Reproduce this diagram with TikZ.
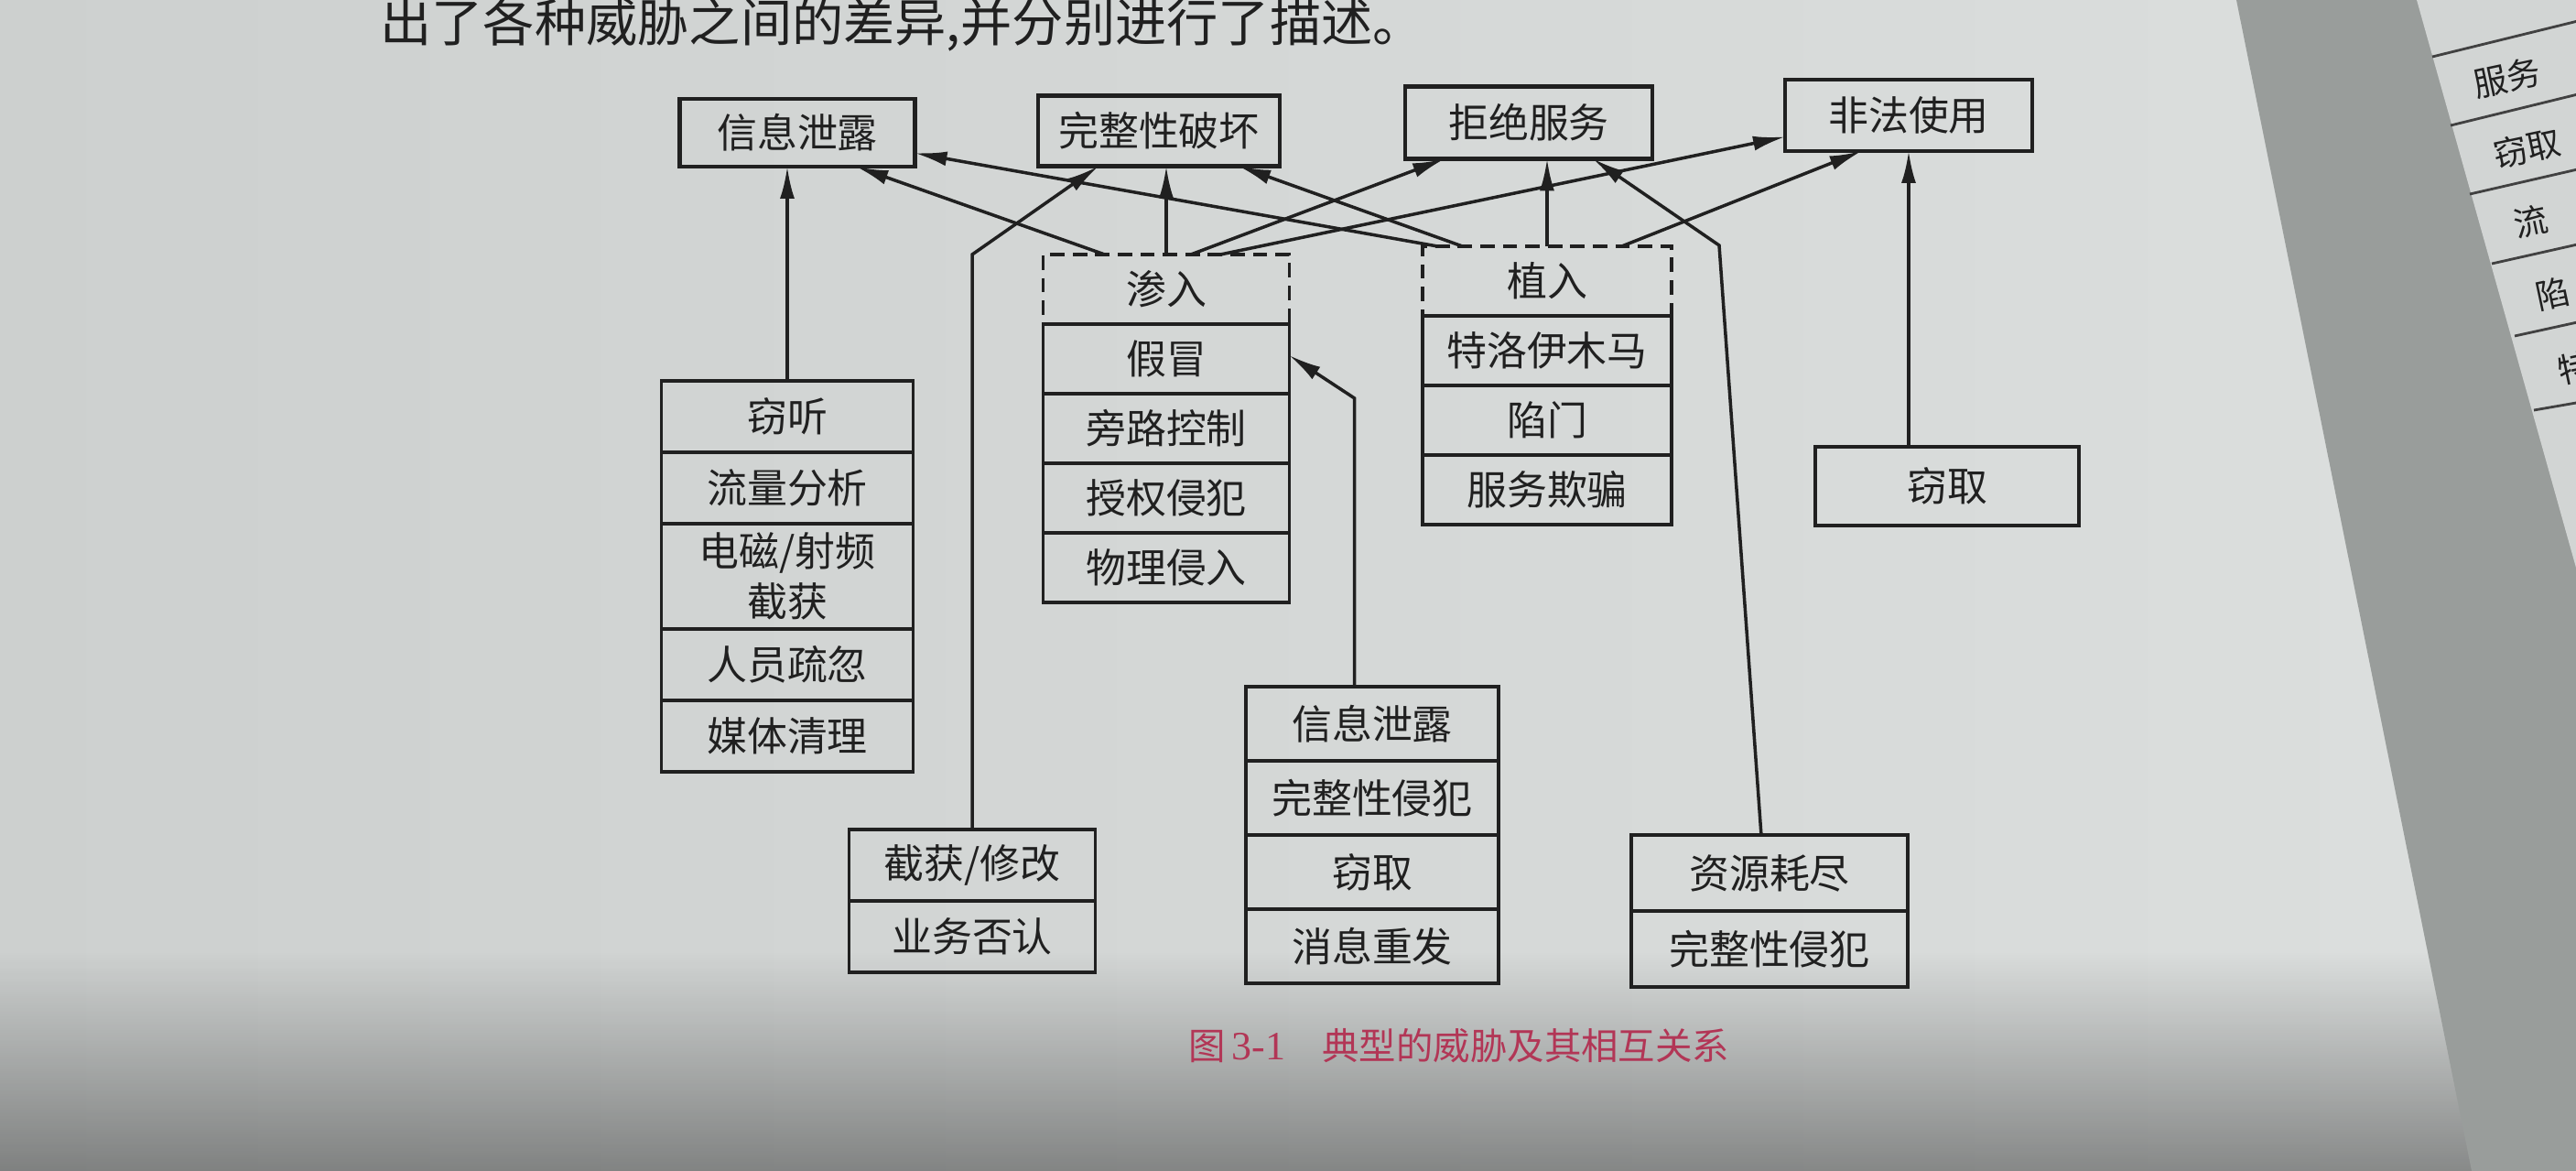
\documentclass[tikz,border=0pt]{standalone}
\usepackage{fontspec}
\setmainfont{Noto Sans CJK SC}
\newfontfamily\latinserif{Liberation Serif}
\usepackage{xcolor}
\usepackage{tikz}
\usetikzlibrary{arrows.meta,positioning,calc,fadings}
\definecolor{papel}{HTML}{DCDFDE}
\definecolor{papelosc}{HTML}{CDD0CF}
\definecolor{sombra}{HTML}{999D9B}
\definecolor{tinta}{HTML}{202020}
\definecolor{rubrica}{HTML}{B23656}
\tikzfading[name=fadebajo, top color=transparent!100, bottom color=transparent!0]
\tikzset{
    caja/.style={
        rectangle,
        draw=tinta,
        text=tinta,
        line width=1.1pt,
        inner sep=0pt,
        outer sep=0pt,
        align=center,
        minimum height=0.78cm,
        font=\fontsize{12.5}{15.5}\selectfont
    },
    amenaza/.style={caja, line width=1.3pt},
    fila/.style={caja},
    difusa/.style={caja, dash pattern=on 4.5pt off 2.5pt},
    flecha/.style={-{Latex[length=3.5mm, width=1.6mm]}, line width=1.0pt, draw=tinta},
    renglon/.style={line width=0.8pt, draw=tinta!85},
    ajena/.style={rotate=12, anchor=west, text=tinta, font=\fontsize{10.5}{12}\selectfont, inner sep=0pt},
    leyenda/.style={anchor=west, text=rubrica, font=\fontsize{11.5}{14}\selectfont}
}

\begin{document}
\begin{tikzpicture}
        \useasboundingbox (0,0) rectangle (28.14,-12.79);
        \clip (0,0) rectangle (28.14,-12.79);
        % fondo de la foto
        \shade[left color=papelosc, right color=papel] (0,0) rectangle (28.14,-12.79);
        \fill[black, opacity=0.38, path fading=fadebajo] (0,-10.4) rectangle (28.14,-12.79);
        \fill[sombra] (24.43,0) -- (28.14,0) -- (28.14,-12.79) -- (27.0,-12.79) -- cycle;
        \fill[papel!85!sombra] (26.40,0) -- (28.14,0) -- (28.14,-6.2) -- cycle;

        \node[anchor=west, text=tinta, font=\fontsize{16}{18}\selectfont] (encabezado) at (4.03,-0.27) {出了各种威胁之间的差异,并分别进行了描述。};

        % amenazas principales
        \node[amenaza, minimum width=2.57cm, minimum height=0.74cm] (xinxi) at (8.71,-1.45) {信息泄露};
        \node[amenaza, minimum width=2.64cm, minimum height=0.77cm] (wanzheng) at (12.66,-1.43) {完整性破坏};
        \node[amenaza, minimum width=2.70cm, minimum height=0.79cm] (jujue) at (16.70,-1.34) {拒绝服务};
        \node[amenaza, minimum width=2.70cm, minimum height=0.78cm] (feifa) at (20.85,-1.26) {非法使用};

        % grupos
        \node[fila, minimum width=2.75cm] (qieting) at (8.60,-4.55) {窃听};
        \node[fila, below=0pt of qieting, minimum width=2.75cm] (liuliang) {流量分析};
        \node[fila, below=0pt of liuliang, minimum width=2.75cm, minimum height=1.15cm] (dianci) {电磁/射频\\截获};
        \node[fila, below=0pt of dianci, minimum width=2.75cm] (renyuan) {人员疏忽};
        \node[fila, below=0pt of renyuan, minimum width=2.75cm] (meiti) {媒体清理};

        \node[difusa, minimum width=2.69cm, minimum height=0.76cm] (shenru) at (12.74,-3.16) {渗入};
        \node[fila, below=0pt of shenru, minimum width=2.69cm, minimum height=0.76cm] (maojia) {假冒};
        \node[fila, below=0pt of maojia, minimum width=2.69cm, minimum height=0.76cm] (panglu) {旁路控制};
        \node[fila, below=0pt of panglu, minimum width=2.69cm, minimum height=0.76cm] (shouquan) {授权侵犯};
        \node[fila, below=0pt of shouquan, minimum width=2.69cm, minimum height=0.76cm] (wuli) {物理侵入};

        \node[difusa, minimum width=2.72cm, minimum height=0.76cm] (zhiru) at (16.90,-3.07) {植入};
        \node[fila, below=0pt of zhiru, minimum width=2.72cm, minimum height=0.76cm] (tewo) {特洛伊木马};
        \node[fila, below=0pt of tewo, minimum width=2.72cm, minimum height=0.76cm] (xianmen) {陷门};
        \node[fila, below=0pt of xianmen, minimum width=2.72cm, minimum height=0.76cm] (qipian) {服务欺骗};

        \node[fila, minimum width=2.88cm, minimum height=0.86cm] (qiequ) at (21.27,-5.31) {窃取};

        \node[fila, minimum width=2.69cm] (jiehuo) at (10.62,-9.45) {截获/修改};
        \node[fila, below=0pt of jiehuo, minimum width=2.69cm] (fouren) {业务否认};

        \node[fila, minimum width=2.76cm, minimum height=0.81cm] (xielu) at (14.99,-7.905) {信息泄露};
        \node[fila, below=0pt of xielu, minimum width=2.76cm, minimum height=0.81cm] (qinfan) {完整性侵犯};
        \node[fila, below=0pt of qinfan, minimum width=2.76cm, minimum height=0.81cm] (qiequdos) {窃取};
        \node[fila, below=0pt of qiequdos, minimum width=2.76cm, minimum height=0.81cm] (chongfa) {消息重发};

        \node[fila, minimum width=3.02cm, minimum height=0.83cm] (ziyuan) at (19.33,-9.535) {资源耗尽};
        \node[fila, below=0pt of ziyuan, minimum width=3.02cm, minimum height=0.83cm] (qinfandos) {完整性侵犯};

        \coordinate (codo) at (18.78,-2.68);

        % relaciones
        \draw[flecha] (qieting.north) -- (qieting.north |- xinxi.south);
        \draw[flecha] (jiehuo.north) -- (jiehuo.north |- shenru.north) -- ($(wanzheng.south west)!0.25!(wanzheng.south east)$);
        \draw[flecha] ($(shenru.north west)!0.25!(shenru.north east)$) -- ($(xinxi.south west)!0.75!(xinxi.south east)$);
        \draw[flecha] (shenru.north) -- (shenru.north |- wanzheng.south);
        \draw[flecha] ($(shenru.north west)!0.6!(shenru.north east)$) -- ($(jujue.south west)!0.16!(jujue.south east)$);
        \draw[flecha] ($(shenru.north west)!0.72!(shenru.north east)$) -- ($(feifa.north west)!0.8!(feifa.south west)$);
        \draw[flecha] ($(zhiru.north west)!0.06!(zhiru.north east)$) -- ($(xinxi.north east)!0.8!(xinxi.south east)$);
        \draw[flecha] ($(zhiru.north west)!0.16!(zhiru.north east)$) -- ($(wanzheng.south west)!0.83!(wanzheng.south east)$);
        \draw[flecha] (zhiru.north) -- (zhiru.north |- jujue.south);
        \draw[flecha] ($(zhiru.north west)!0.8!(zhiru.north east)$) -- ($(feifa.south west)!0.31!(feifa.south east)$);
        \draw[flecha] (qiequ.north -| feifa.south) -- (feifa.south);
        \draw[flecha] ($(xielu.north west)!0.43!(xielu.north east)$) -- ++(0,3.15) -- ($(maojia.north east)!0.45!(maojia.south east)$);
        \draw[flecha] ($(ziyuan.north west)!0.47!(ziyuan.north east)$) -- (codo) -- ($(jujue.south west)!0.76!(jujue.south east)$);

        \node[leyenda] (titulo) at (12.86,-11.42) {图\,{\latinserif\fontsize{12.5}{14}\selectfont 3-1}\quad 典型的威胁及其相互关系};

        % pagina de al lado
        \draw[renglon] (26.57,-0.62) -- (28.20,-0.22);
        \draw[renglon] (26.77,-1.37) -- (28.20,-1.02);
        \draw[renglon] (26.98,-2.12) -- (28.20,-1.84);
        \draw[renglon] (27.22,-2.88) -- (28.20,-2.66);
        \draw[renglon] (27.47,-3.67) -- (28.20,-3.51);
        \draw[renglon] (27.68,-4.48) -- (28.20,-4.39);
        \node[ajena] (fuwu) at (27.02,-0.93) {服务};
        \node[ajena] (qiequtres) at (27.24,-1.70) {窃取};
        \node[ajena] (liu) at (27.46,-2.46) {流};
        \node[ajena] (xian) at (27.70,-3.25) {陷};
        \node[ajena] (te) at (27.94,-4.06) {特};
\end{tikzpicture}
\end{document}
